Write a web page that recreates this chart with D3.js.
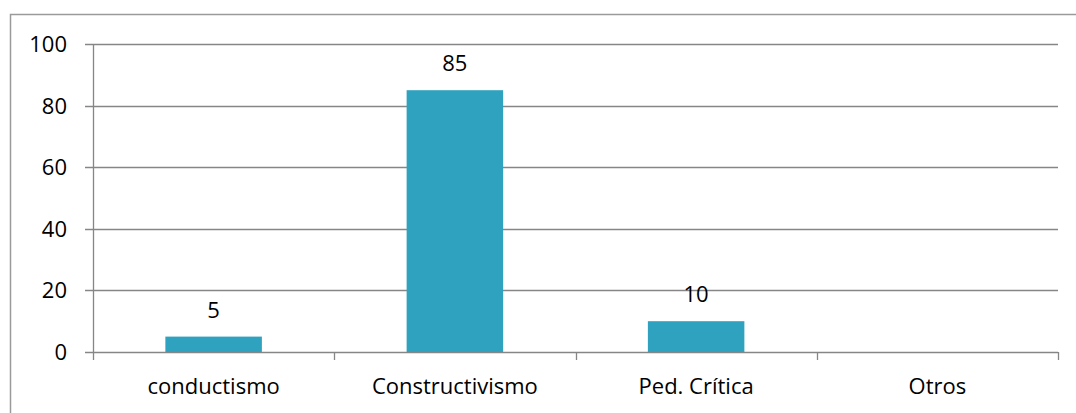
<!DOCTYPE html>
<meta charset="utf-8">
<style>
  body { margin: 0; background: #fff; }
  text { font-family: "Open Sans", sans-serif; fill: #000; }
</style>
<svg class="chart"></svg>
<script src="https://d3js.org/d3.v7.min.js"></script>
<script>
  var categories = ["conductismo", "Constructivismo", "Ped. Crítica", "Otros"];
  var values     = [5, 85, 10, null];
  var yTicks     = [0, 20, 40, 60, 80, 100];

  var outerWidth = 1076, outerHeight = 413;
  var margin = { top: 44, right: 18, bottom: 61, left: 93 };
  var width  = outerWidth - margin.left - margin.right;
  var height = outerHeight - margin.top - margin.bottom;

  var svg = d3.select(".chart")
      .attr("width", outerWidth)
      .attr("height", outerHeight);

  // outer frame (cut at right and bottom)
  svg.append("rect")
      .attr("x", 10.5).attr("y", 14.5)
      .attr("width", 1100).attr("height", 420)
      .attr("fill", "none")
      .attr("stroke", "#9a9a9a")
      .attr("stroke-width", 1.5);

  var chart = svg.append("g")
      .attr("transform", "translate(" + margin.left + "," + margin.top + ")");

  var x = d3.scaleBand()
      .domain(categories)
      .range([0, width])
      .paddingInner(0.6)
      .paddingOuter(0.3);

  var y = d3.scaleLinear()
      .domain([0, 100])
      .range([height, 0]);

  var step = x.step();

  // gridlines + y ticks
  chart.append("g")
    .selectAll("line")
      .data(yTicks)
    .enter().append("line")
      .attr("x1", -8)
      .attr("x2", width)
      .attr("y1", function(d) { return Math.round(y(d)) + 0.5; })
      .attr("y2", function(d) { return Math.round(y(d)) + 0.5; })
      .attr("stroke", "#868686")
      .attr("stroke-width", 1.3);

  chart.append("g")
    .selectAll("text")
      .data(yTicks)
    .enter().append("text")
      .attr("x", -26)
      .attr("y", function(d) { return y(d) + 8; })
      .attr("text-anchor", "end")
      .style("font-size", "22px")
      .text(function(d) { return d; });

  // y axis line
  chart.append("line")
      .attr("x1", 0.5).attr("x2", 0.5)
      .attr("y1", 0).attr("y2", height)
      .attr("stroke", "#868686")
      .attr("stroke-width", 1.3);

  // x category boundary ticks
  var boundaries = d3.range(categories.length + 1);
  chart.append("g")
    .selectAll("line")
      .data(boundaries)
    .enter().append("line")
      .attr("x1", function(i) { return Math.round(i * step) + 0.5; })
      .attr("x2", function(i) { return Math.round(i * step) + 0.5; })
      .attr("y1", height)
      .attr("y2", height + 8)
      .attr("stroke", "#868686")
      .attr("stroke-width", 1.3);

  // bars
  chart.append("g")
    .selectAll("rect")
      .data(categories)
    .enter().append("rect")
      .attr("x", function(d) { return x(d); })
      .attr("y", function(d, i) { return y(values[i] || 0); })
      .attr("width", x.bandwidth())
      .attr("height", function(d, i) { return height - y(values[i] || 0); })
      .attr("fill", "#2ea2bf");

  // value labels
  chart.append("g")
    .selectAll("text")
      .data(categories.filter(function(d, i) { return values[i] != null; }))
    .enter().append("text")
      .attr("x", function(d) { return x(d) + x.bandwidth() / 2; })
      .attr("y", function(d) { return y(values[categories.indexOf(d)]) - 19; })
      .attr("text-anchor", "middle")
      .style("font-size", "22px")
      .text(function(d) { return values[categories.indexOf(d)]; });

  // category labels
  chart.append("g")
    .selectAll("text")
      .data(categories)
    .enter().append("text")
      .attr("x", function(d) { return x(d) + x.bandwidth() / 2; })
      .attr("y", height + 42)
      .attr("text-anchor", "middle")
      .style("font-size", "22px")
      .text(function(d) { return d; });
</script>
